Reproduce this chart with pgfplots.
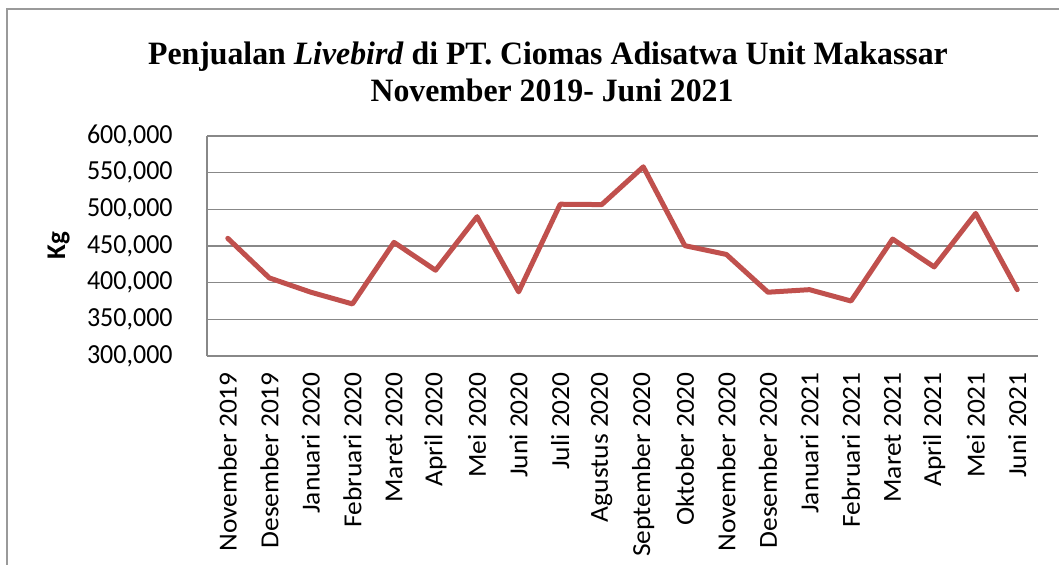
\documentclass[border=0pt]{standalone}
\usepackage{pgfplots}
\pgfplotsset{compat=1.18}
\usepackage{fontspec}
\setmainfont{Carlito}
\newfontfamily\titlefont{Liberation Serif}
\definecolor{linered}{HTML}{C0504D}
\definecolor{gridgray}{HTML}{888888}
\begin{document}
\begin{tikzpicture}[x=1bp,y=1bp]
\path[use as bounding box] (0,0) rectangle (529.5,-282);
\draw[gridgray!85, line width=0.8bp] (3.5,-300) -- (3.5,-4.5) -- (560,-4.5);
\node[font=\titlefont\bfseries\fontsize{16.3bp}{19bp}\selectfont, anchor=base, xscale=0.975] at (274,-32) {Penjualan \textit{Livebird} di PT. Ciomas Adisatwa Unit Makassar};
\node[font=\titlefont\bfseries\fontsize{16.3bp}{19bp}\selectfont, anchor=base, xscale=0.975] at (276,-50.5) {November 2019- Juni 2021};
\node[font=\bfseries\fontsize{13.5bp}{15bp}\selectfont, rotate=90, anchor=base] at (32.5,-122.75) {Kg};
\begin{axis}[
  at={(103.5bp,-178bp)}, anchor=south west,
  scale only axis, width=415.5bp, height=110bp,
  xmin=-0.5, xmax=19.5, ymin=300000, ymax=600000,
  ytick={300000,350000,400000,450000,500000,550000,600000},
  xtick={0,...,19},
  xticklabels={November 2019,Desember 2019,Januari 2020,Februari 2020,Maret 2020,April 2020,Mei 2020,Juni 2020,Juli 2020,Agustus 2020,September 2020,Oktober 2020,November 2020,Desember 2020,Januari 2021,Februari 2021,Maret 2021,April 2021,Mei 2021,Juni 2021},
  axis x line*=bottom, axis y line*=left,
  axis line style={gridgray, line width=0.75bp, -},
  ymajorgrids, grid style={gridgray, line width=0.75bp},
  major tick length=0pt,
  scaled y ticks=false,
  /pgf/number format/.cd, fixed, 1000 sep={,}, assume math mode=true,
  /pgfplots/.cd,
  tick label style={font=\fontsize{13bp}{15bp}\selectfont},
  yticklabel style={anchor=east, inner xsep=17bp, yscale=1.06},
  xticklabel style={rotate=90, xscale=1.055, anchor=east, inner xsep=7.5bp, inner ysep=0pt},
  clip=false,
]
\addplot[linered, line width=2.5bp, mark=none, line join=round, line cap=round] coordinates {
(0,460500) (1,406500) (2,387000) (3,371000) (4,455000) (5,417000) (6,490000) (7,387500) (8,507000) (9,506500) (10,558000) (11,450500) (12,438500) (13,387000) (14,390500) (15,375000) (16,459500) (17,421500) (18,494500) (19,390500)
};
\end{axis}
\end{tikzpicture}
\end{document}
